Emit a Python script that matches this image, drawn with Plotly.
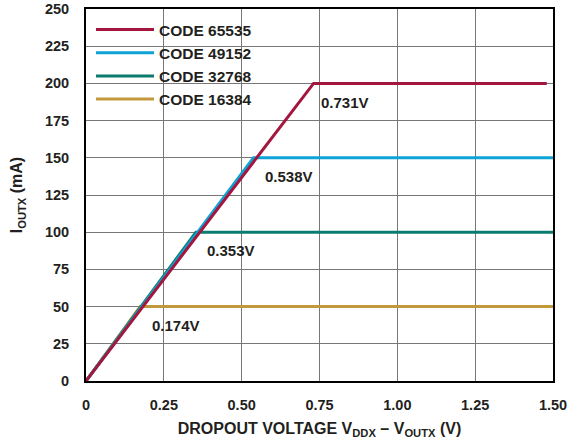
import plotly.graph_objects as go

# ---- data ----
codes = ["CODE 65535", "CODE 49152", "CODE 32768", "CODE 16384"]
knee_v = [0.731, 0.538, 0.353, 0.174]          # dropout voltage at knee (V)
i_max = [200, 150, 100, 50]                    # output current limit (mA)
end_v = [1.48, 1.50, 1.50, 1.50]               # last plotted voltage (V)
knee_labels = ["0.731V", "0.538V", "0.353V", "0.174V"]
colors = ["#A3173F", "#0EA2D6", "#0B7B6F", "#C2993A"]
x_ticks = [0, 0.25, 0.5, 0.75, 1.0, 1.25, 1.5]
x_ticktext = ["0", "0.25", "0.50", "0.75", "1.00", "1.25", "1.50"]
y_ticks = [0, 25, 50, 75, 100, 125, 150, 175, 200, 225, 250]

FONT = "Liberation Sans, Arial, Helvetica, sans-serif"
TXT = "#231F20"
W, H = 579, 446
L, R, T, B = 86, 26, 9, 65
PW, PH = W - L - R, H - T - B

fig = go.Figure()
# draw lowest code first so CODE 65535 sits on top
for name, kv, im, ev, col in reversed(list(zip(codes, knee_v, i_max, end_v, colors))):
    fig.add_trace(go.Scatter(
        x=[0, kv, ev], y=[0, im, im], mode="lines", name=name,
        line=dict(color=col, width=3), hoverinfo="skip"))

shapes = []
annotations = []
for kv, im, lab in zip(knee_v, i_max, knee_labels):
    off = 0.018 if im == 200 else 0.03
    # white mask behind the label (hides grid)
    shapes.append(dict(type="rect", xref="x", yref="y", layer="below",
                       x0=kv + 0.005, x1=kv + off + 0.165, y0=im - 23, y1=im + 4,
                       fillcolor="white", line=dict(width=0)))
    annotations.append(dict(x=kv + off, y=im - 12.5, xref="x", yref="y",
                            text=lab, showarrow=False, xanchor="left", yanchor="middle",
                            font=dict(family=FONT, size=15, color=TXT, weight="bold")))

# white mask behind legend
shapes.append(dict(type="rect", xref="paper", yref="paper", layer="below",
                   x0=0, x1=(284 - L) / PW, y0=(H - B - 114) / PH, y1=1,
                   fillcolor="white", line=dict(width=0)))

fig.update_layout(
    width=W, height=H,
    margin=dict(l=L, r=R, t=T, b=B, autoexpand=False),
    paper_bgcolor="white", plot_bgcolor="white",
    font=dict(family=FONT, size=14.5, color=TXT, weight="bold"),
    showlegend=True,
    legend=dict(x=5 / PW, y=1 - 4 / PH, xanchor="left", yanchor="top",
                bgcolor="rgba(0,0,0,0)", borderwidth=0,
                traceorder="reversed", itemwidth=58,
                font=dict(family=FONT, size=15.5, color=TXT, weight="bold")),
    shapes=shapes,
    annotations=annotations,
)
fig.update_xaxes(range=[0, 1.5], tickvals=x_ticks, ticktext=x_ticktext,
                 showgrid=True, gridcolor="#777777", gridwidth=1,
                 showline=True, linecolor="black", linewidth=2, mirror=True,
                 ticks="", ticklabelstandoff=10, zeroline=False, automargin=False,
                 title=dict(text="DROPOUT VOLTAGE V<sub>DDX</sub> – V<sub>OUTX</sub> (V)",
                            font=dict(family=FONT, size=16, weight="bold"), standoff=10))
fig.update_yaxes(range=[0, 250], tickvals=y_ticks,
                 showgrid=True, gridcolor="#777777", gridwidth=1,
                 showline=True, linecolor="black", linewidth=2, mirror=True,
                 ticks="", ticklabelstandoff=12, zeroline=False, automargin=False,
                 title=dict(text="I<sub>OUTX</sub> (mA)",
                            font=dict(family=FONT, size=16, weight="bold"), standoff=18))

fig.write_html("out.html", config={"displayModeBar": False},
               post_script="document.body.style.margin='0px';document.body.style.overflow='hidden';")
